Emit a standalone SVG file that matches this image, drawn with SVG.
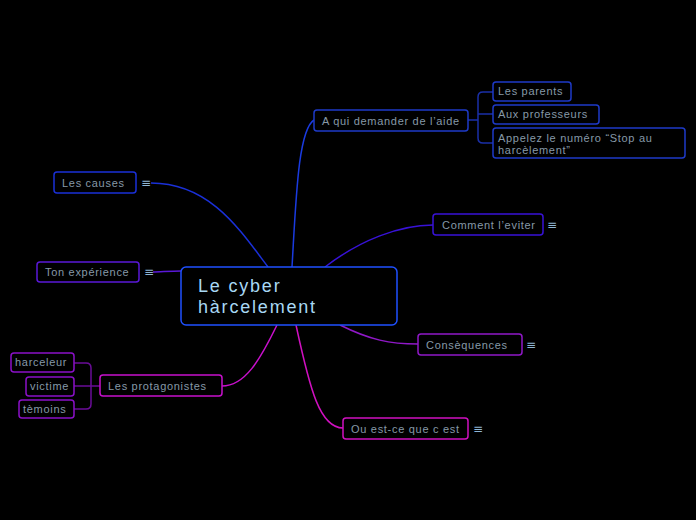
<svg xmlns="http://www.w3.org/2000/svg" width="696" height="520" viewBox="0 0 696 520">
<style>
.t{font-family:"Liberation Sans",Arial,sans-serif;font-size:11px;fill:#8699a8;letter-spacing:0.7px}
.c{font-family:"Liberation Sans",Arial,sans-serif;font-size:18px;fill:#a8d8f4;letter-spacing:1.8px}
.n{fill:#000;stroke-width:1.5}
.m{font-family:"DejaVu Sans",sans-serif;font-size:12px;fill:#8fb6d6}
.l{fill:none;stroke-width:1.5}
</style>
<rect width="696" height="520" fill="#000"/>
<g id="connectors">
<path class="l" stroke="#1a3be0" d="M292,267 C296,200 298,130 314,120"/>
<path class="l" stroke="#1a2fa8" d="M468,120 H478 M493,92 H483 Q478,92 478,97 V138 Q478,143 483,143 H493 M478,114 H493"/>
<path class="l" stroke="#3812d8" d="M325,267 C360,240 400,225 433,225"/>
<path class="l" stroke="#1a30d8" d="M268,267 C240,230 210,183 151,183"/>
<path class="l" stroke="#5a18d8" d="M181,271 C170,271 160,272 153,272"/>
<path class="l" stroke="#9018c8" d="M340,325 C370,340 390,344 418,344"/>
<path class="l" stroke="#d010c0" d="M296,325 C310,390 320,428 343,428"/>
<path class="l" stroke="#c810cc" d="M277,325 C260,360 245,386 222,386"/>
<path class="l" stroke="#6a0c98" d="M100,386 H91 M74,363 H86 Q91,363 91,368 V404 Q91,409 86,409 H74 M74,386 H91"/>
</g>
<g id="center">
<rect class="n" x="181" y="267" width="216" height="58" rx="5" stroke="#1f50ff" stroke-width="2"/>
<text class="c" x="198" y="292">Le cyber</text>
<text class="c" x="198" y="313">hàrcelement</text>
</g>
<g id="aqui">
<rect class="n" x="314" y="110" width="154" height="21" rx="3" stroke="#1e3ac8"/>
<text class="t" x="322" y="125">A qui demander de l’aide</text>
</g>
<g id="parents">
<rect class="n" x="493" y="82" width="78" height="19" rx="3" stroke="#1e3ac8"/>
<text class="t" x="498" y="95">Les parents</text>
</g>
<g id="profs">
<rect class="n" x="493" y="105" width="106" height="19" rx="3" stroke="#1e3ac8"/>
<text class="t" x="498" y="118">Aux professeurs</text>
</g>
<g id="appelez">
<rect class="n" x="493" y="128" width="192" height="30" rx="3" stroke="#1e3ac8"/>
<text class="t" x="498" y="142">Appelez le numéro “Stop au</text>
<text class="t" x="498" y="154">harcèlement”</text>
</g>
<g id="eviter">
<rect class="n" x="433" y="214" width="110" height="21" rx="3" stroke="#3812d8"/>
<text class="t" x="442" y="229">Comment l’eviter</text>
<text class="m" x="547" y="229">≡</text>
</g>
<g id="causes">
<rect class="n" x="54" y="172" width="82" height="21" rx="3" stroke="#1a30d8"/>
<text class="t" x="62" y="187">Les causes</text>
<text class="m" x="141" y="187">≡</text>
</g>
<g id="experience">
<rect class="n" x="37" y="262" width="102" height="20" rx="3" stroke="#5a18d8"/>
<text class="t" x="45" y="276">Ton expérience</text>
<text class="m" x="144" y="276">≡</text>
</g>
<g id="consequences">
<rect class="n" x="418" y="334" width="104" height="21" rx="3" stroke="#9018c8"/>
<text class="t" x="426" y="349">Consèquences</text>
<text class="m" x="526" y="349">≡</text>
</g>
<g id="quest">
<rect class="n" x="343" y="418" width="125" height="21" rx="3" stroke="#d010c0"/>
<text class="t" x="351" y="433">Ou est-ce que c est</text>
<text class="m" x="473" y="433">≡</text>
</g>
<g id="protagonistes">
<rect class="n" x="100" y="375" width="122" height="21" rx="3" stroke="#c810cc"/>
<text class="t" x="108" y="390">Les protagonistes</text>
</g>
<g id="harceleur">
<rect class="n" x="11" y="353" width="63" height="19" rx="3" stroke="#8a10c8"/>
<text class="t" x="15" y="366">harceleur</text>
</g>
<g id="victime">
<rect class="n" x="26" y="377" width="48" height="19" rx="3" stroke="#8a10c8"/>
<text class="t" x="30" y="390">victime</text>
</g>
<g id="temoins">
<rect class="n" x="19" y="400" width="55" height="18" rx="3" stroke="#8a10c8"/>
<text class="t" x="23" y="413">tèmoins</text>
</g>
</svg>
